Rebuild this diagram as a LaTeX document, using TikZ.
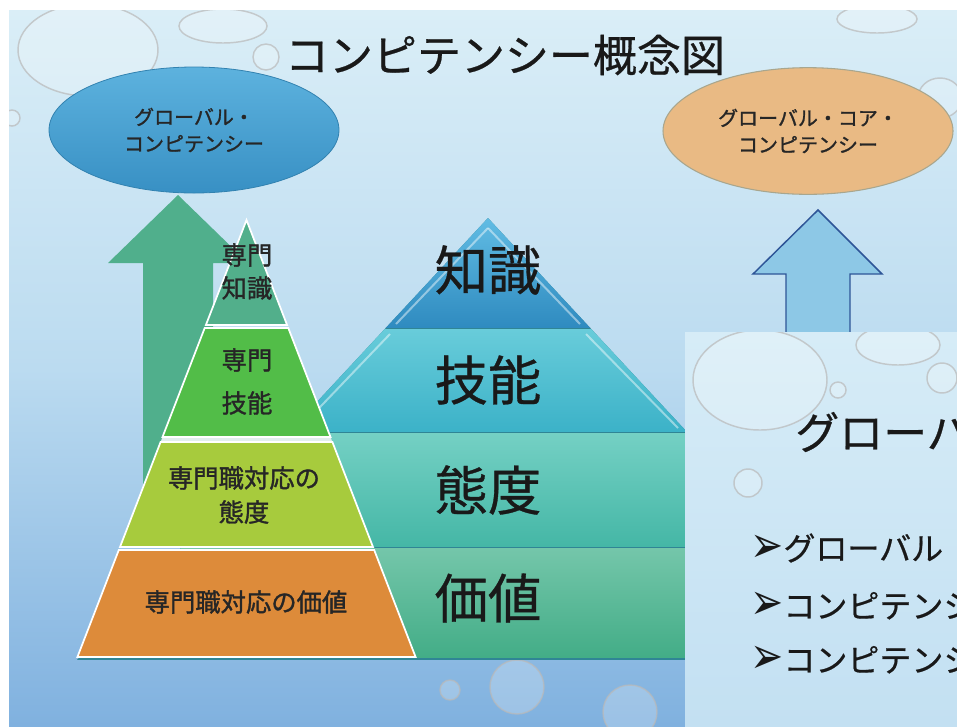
\documentclass[tikz,border=0pt]{standalone}
\usepackage{fontspec}
\newfontfamily\jp{Noto Sans CJK JP}
\newfontfamily\jpm[FakeBold=0.6]{Noto Sans CJK JP}
\newfontfamily\jpb[FakeBold=1.3]{Noto Sans CJK JP}
\newfontfamily\dvs{DejaVu Sans}
\newcommand\mybul{\raisebox{-1.5pt}{\scalebox{1.35}[1.75]{\dvs\fontsize{22}{26}\selectfont ➢}}}
\usetikzlibrary{shapes.geometric}
\definecolor{bgA}{HTML}{DAEEF7}
\definecolor{bgB}{HTML}{BBDBF0}
\definecolor{bgC}{HTML}{80B1DF}
\definecolor{ovA}{HTML}{D6ECF7}
\definecolor{ovB}{HTML}{C3E0F2}
\definecolor{elBlueT}{HTML}{5DB2DE}
\definecolor{elBlueB}{HTML}{3890C4}
\definecolor{elOrange}{HTML}{E9BA84}
\definecolor{elOrangeL}{HTML}{A8A68E}
\definecolor{arGreen}{HTML}{50AF8C}
\definecolor{arBlue}{HTML}{8DC8E6}
\definecolor{arBlueL}{HTML}{2E5597}
\definecolor{kA1}{HTML}{62BDE4}
\definecolor{kA2}{HTML}{2F8BC0}
\definecolor{kB1}{HTML}{68CCDA}
\definecolor{kB2}{HTML}{3CB2C8}
\definecolor{kC1}{HTML}{74D0C4}
\definecolor{kC2}{HTML}{45B7A6}
\definecolor{kD1}{HTML}{74C6AA}
\definecolor{kD2}{HTML}{43AD87}
\definecolor{kEdge}{HTML}{2F8595}
\definecolor{pA}{HTML}{52AF8B}
\definecolor{pB}{HTML}{52BD48}
\definecolor{pC}{HTML}{A7CB3D}
\definecolor{pD}{HTML}{DD8B3A}
\definecolor{pBand}{HTML}{E2EEEE}
\begin{document}
\begin{tikzpicture}[x=0.75pt,y=-0.75pt,
  bubble/.style={fill=white, fill opacity=0.22, draw=gray!55, draw opacity=0.7, line width=1.1pt},
  seg/.style={draw=white, line width=1.3pt},
  small/.style={font=\jpb\fontsize{19}{25}\selectfont, text=black!85, align=center, inner sep=0pt},
  big/.style={font=\jpm\fontsize{40}{46}\selectfont, text=black!90, inner sep=0pt},
  eltext/.style={font=\jpb\fontsize{15}{20}\selectfont, text=black!85, align=center},
  bullet/.style={anchor=west, inner sep=0pt, text=black!90}]
\useasboundingbox (0,0) rectangle (957,726);
\fill[white] (0,0) rectangle (957,726);
% main slide background
\shade[top color=bgA, bottom color=bgC, middle color=bgB] (9,10) rectangle (957,726);
\begin{scope}
  \clip (9,10) rectangle (957,726);
  \draw[bubble] (88,50) ellipse [x radius=70, y radius=46];
  \draw[bubble] (223,26) ellipse [x radius=44, y radius=17];
  \draw[bubble] (266,57) circle [radius=13];
  \draw[bubble] (12,118) circle [radius=8];
  \draw[bubble] (877,19) ellipse [x radius=40, y radius=14];
  \draw[bubble] (940,98) ellipse [x radius=22, y radius=20];
  \draw[bubble] (450,690) circle [radius=10];
  \draw[bubble] (517,687) circle [radius=27];
  \draw[bubble] (630,712) circle [radius=27];
\end{scope}
% title
\node[font=\jpm\fontsize{33}{40}\selectfont, text=black!90] (title) at (505,55) {コンピテンシー概念図};
% ellipses
\node[ellipse, minimum width=217.5pt, minimum height=94.5pt, inner sep=0pt,
  top color=elBlueT, bottom color=elBlueB, draw=elBlueB!90!black, line width=0.6pt, eltext]
  (gc) at (194,130) {グローバル・\\コンピテンシー};
\node[ellipse, minimum width=217.5pt, minimum height=95pt, inner sep=0pt,
  fill=elOrange, draw=elOrangeL, line width=0.8pt, eltext]
  (gcc) at (808,131) {グローバル・コア・\\コンピテンシー};
% right (background) pyramid
\begin{scope}
  \clip (488,218) -- (77,660) -- (899,660) -- cycle;
  \fill[kEdge] (0,210) rectangle (957,660);
  \shade[top color=kA1, bottom color=kA2] (0,216) rectangle (957,327);
  \shade[top color=kB1, bottom color=kB2] (0,329.5) rectangle (957,431);
  \shade[top color=kC1, bottom color=kC2] (0,433.5) rectangle (957,546);
  \shade[top color=kD1, bottom color=kD2] (0,548.5) rectangle (957,657);
  \draw[white, opacity=0.45, line width=1.5pt] (488,228) -- (396,324);
  \draw[white, opacity=0.45, line width=1.5pt] (488,228) -- (580,324);
  \draw[white, opacity=0.45, line width=1.5pt] (390,334) -- (300,428);
  \draw[white, opacity=0.45, line width=1.5pt] (586,334) -- (678,428);
\end{scope}
\node[big] (kn) at (488,270) {知識};
\node[big] (sk) at (488,380) {技能};
\node[big] (at) at (488,490) {態度};
\node[big] (va) at (488,598) {価値};
% green block arrow
\coordinate (gtip) at (178,195);
\fill[arGreen] (gtip) -- (248,263) -- (213,263) -- (213,540) -- (143,540) -- (143,263) -- (108,263) -- cycle;
% front pyramid
\fill[pBand] (162.5,437) -- (330.5,437) -- (332.4,442) -- (160.6,442) -- cycle;
\fill[pA, seg] (246.5,220) -- (287.1,325) -- (205.9,325) -- cycle;
\fill[pB, seg] (204.7,328) -- (288.3,328) -- (330.5,437) -- (162.5,437) -- cycle;
\fill[pC, seg] (160.6,442) -- (332.4,442) -- (373,547) -- (120,547) -- cycle;
\fill[pD, seg] (118.8,550) -- (374.2,550) -- (415.6,657) -- (77.4,657) -- cycle;
\node[small] (t1a) at (247,255) {専門};
\node[small] (t1b) at (247,288) {知識};
\node[small] (t2a) at (247,360) {専門};
\node[small] (t2b) at (247,403) {技能};
\node[small] (t3a) at (244,478) {専門職対応の};
\node[small] (t3b) at (244,512) {態度};
\node[small] (t4) at (246,602) {専門職対応の価値};
% blue block arrow
\coordinate (btip) at (818,210);
\filldraw[fill=arBlue, draw=arBlueL, line width=1.1pt] (btip) -- (882,274) -- (850,274) -- (850,345) -- (786,345) -- (786,274) -- (753,274) -- cycle;
% overlaid second slide (its texts are cut off by the right edge, as in the reference)
\begin{scope}
  \clip (685,332) rectangle (957,726);
  \shade[top color=ovA, bottom color=ovB] (685,332) rectangle (957,726);
  \draw[bubble] (760,380) ellipse [x radius=67, y radius=50];
  \draw[bubble] (898,345) ellipse [x radius=42, y radius=20];
  \draw[bubble] (942,378) circle [radius=15];
  \draw[bubble] (838,390) circle [radius=8];
  \draw[bubble] (748,483) circle [radius=14];
  \node[font=\jpm\fontsize{33}{40}\selectfont, text=black!90, anchor=west, inner sep=0pt] (ovt) at (795,432) {グローバ};
  \node[bullet] (b1) at (750,548) {\mybul{\jpm\fontsize{24}{28}\selectfont グローバル}};
  \node[bullet] (b2) at (750,606) {\mybul{\jpm\fontsize{24}{28}\selectfont コンピテンシ}};
  \node[bullet] (b3) at (750,660) {\mybul{\jpm\fontsize{24}{28}\selectfont コンピテンシ}};
\end{scope}
\end{tikzpicture}
\end{document}
